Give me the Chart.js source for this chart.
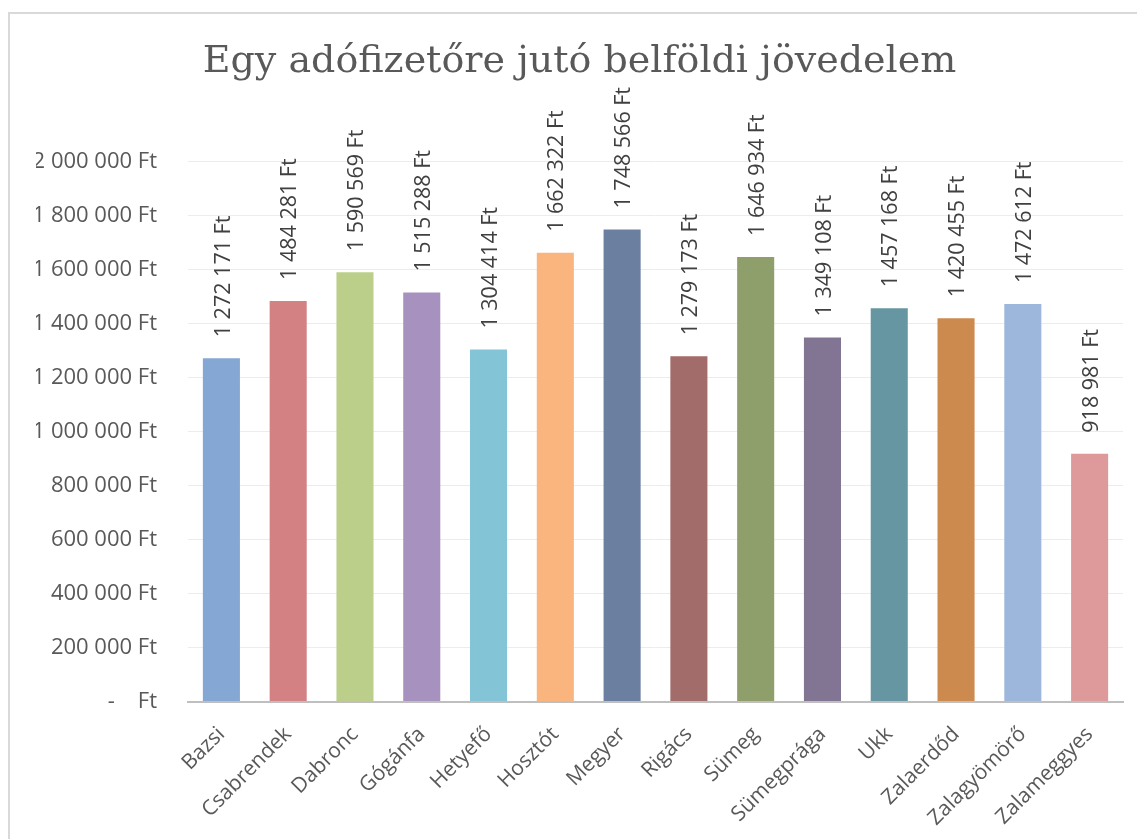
<!DOCTYPE html>
<html>
<head>
<meta charset="utf-8">
<script src="https://cdn.jsdelivr.net/npm/chart.js@4/dist/chart.umd.min.js"></script>
<style>
  html, body { margin: 0; padding: 0; background: #fff; overflow: hidden; }
  #frame { position: absolute; left: 8px; top: 12px; width: 1200px; height: 900px; border-left: 2px solid #d9d9d9; border-top: 2px solid #d9d9d9; }
  #wrap { position: absolute; left: 0; top: 0; width: 1137px; height: 839px; }
</style>
</head>
<body>
<div id="frame"></div>
<div id="wrap"><canvas id="c" width="1137" height="839"></canvas></div>
<script>
const titleText = 'Egy adófizetőre jutó belföldi jövedelem';
const categories = ['Bazsi', 'Csabrendek', 'Dabronc', 'Gógánfa', 'Hetyefő', 'Hosztót', 'Megyer', 'Rigács', 'Sümeg', 'Sümegprága', 'Ukk', 'Zalaerdőd', 'Zalagyömörő', 'Zalameggyes'];
const incomePerTaxpayer = [1272171, 1484281, 1590569, 1515288, 1304414, 1662322, 1748566, 1279173, 1646934, 1349108, 1457168, 1420455, 1472612, 918981];
const barColors = ['#84A7D3', '#D48183', '#BBCF8B', '#A792BF', '#83C4D6', '#FAB47E', '#6B80A0', '#A16C6A', '#8E9F6C', '#827493', '#6696A1', '#CD8A4E', '#9DB6DB', '#DE9A9A'];
const yMin = 0, yMax = 2000000, yStep = 200000;

function fmtFt(v) {
  if (v === 0) return '-    Ft';
  return String(v).replace(/\B(?=(\d{3})+(?!\d))/g, ' ') + ' Ft';
}

const labelPlugin = {
  id: 'barValueLabels',
  afterDatasetsDraw(chart) {
    const ctx = chart.ctx;
    const meta = chart.getDatasetMeta(0);
    ctx.save();
    ctx.font = '21.5px "Open Sans"';
    ctx.fillStyle = '#404040';
    ctx.textAlign = 'left';
    ctx.textBaseline = 'middle';
    meta.data.forEach((bar, i) => {
      ctx.save();
      ctx.translate(bar.x + 2, bar.y - 21);
      ctx.rotate(-Math.PI / 2);
      ctx.fillText(fmtFt(chart.data.datasets[0].data[i]), 0, 0);
      ctx.restore();
    });
    ctx.restore();
  }
};

new Chart(document.getElementById('c'), {
  type: 'bar',
  data: {
    labels: categories,
    datasets: [{
      data: incomePerTaxpayer,
      backgroundColor: barColors,
      borderWidth: 0,
      barPercentage: 0.555,
      categoryPercentage: 1.0
    }]
  },
  options: {
    responsive: false,
    animation: false,
    devicePixelRatio: 1,
    layout: { padding: { left: 36, right: 14, top: 24, bottom: 0 } },
    plugins: {
      legend: { display: false },
      tooltip: { enabled: false },
      title: {
        display: true,
        text: titleText,
        color: '#595959',
        font: { family: '"DejaVu Serif"', size: 38, weight: 'normal', lineHeight: 1.2 },
        padding: { top: 15, bottom: 77 }
      }
    },
    scales: {
      x: {
        grid: { display: false, drawTicks: false },
        border: { display: true, color: '#bfbfbf', width: 2 },
        ticks: {
          color: '#595959',
          font: { family: '"Open Sans"', size: 21 },
          minRotation: 45, maxRotation: 45, autoSkip: false, padding: 20
        },
        afterFit(scale) { scale.height = 137; }
      },
      y: {
        min: yMin, max: yMax,
        grid: {
          drawTicks: false,
          color: (c) => c.tick && c.tick.value === 0 ? '#bfbfbf' : '#ececec',
          lineWidth: (c) => c.tick && c.tick.value === 0 ? 2 : 1
        },
        border: { display: false },
        ticks: {
          stepSize: yStep,
          color: '#595959',
          font: { family: '"Open Sans"', size: 22 },
          padding: 31,
          callback: (v) => fmtFt(v)
        },
        afterFit(scale) { scale.width = 152; }
      }
    }
  },
  plugins: [labelPlugin]
});
</script>
</body>
</html>
